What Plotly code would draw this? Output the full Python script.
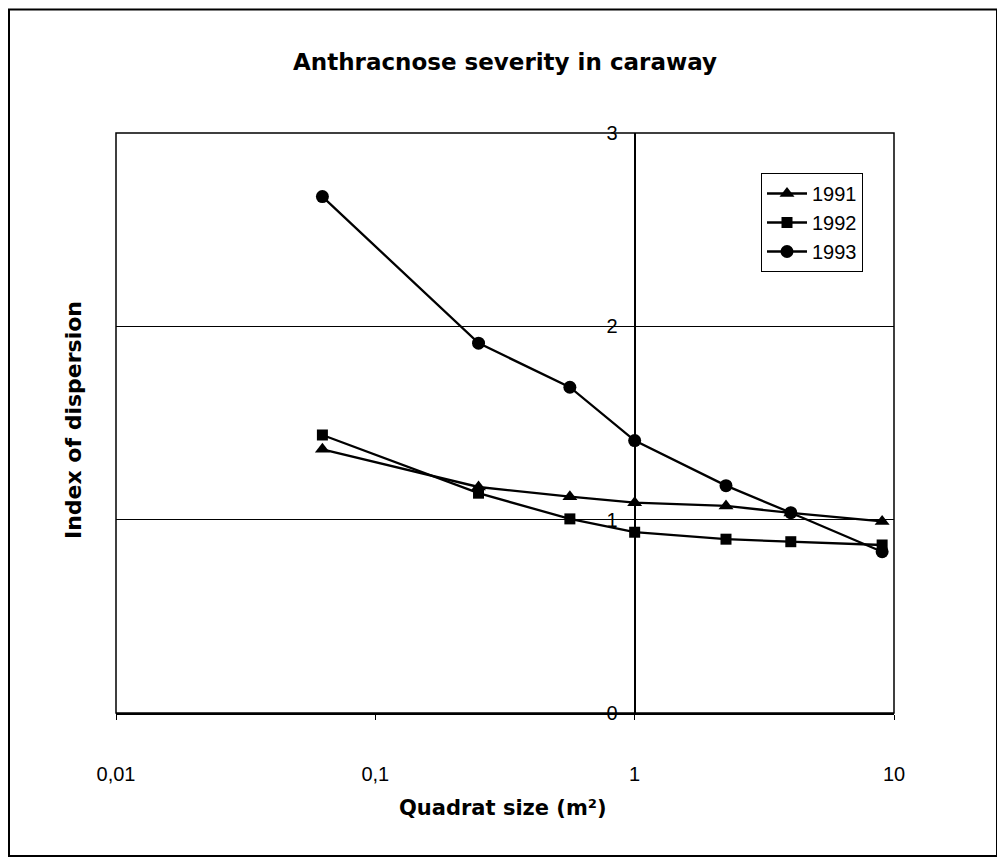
import plotly.graph_objects as go

quadrat_size = [0.0625, 0.25, 0.5625, 1, 2.25, 4, 9]
idx_1991 = [1.364, 1.169, 1.119, 1.088, 1.071, 1.035, 0.991]
idx_1992 = [1.438, 1.137, 1.004, 0.935, 0.899, 0.886, 0.869]
idx_1993 = [2.671, 1.913, 1.685, 1.409, 1.176, 1.036, 0.834]

x_tickvals = [0.01, 0.1, 1, 10]
x_ticktext = ["0,01", "0,1", "1", "10"]
y_tickvals = [0, 1, 2, 3]
y_ticktext = ["0", "1", "2", "3"]

FONT = "Liberation Sans, Arial, Helvetica, sans-serif"
BFONT = "DejaVu Sans, Liberation Sans, Arial, sans-serif"

fig = go.Figure()
series = [("1991", idx_1991, "triangle-up", 13),
          ("1992", idx_1992, "square", 11),
          ("1993", idx_1993, "circle", 13)]
for name, vals, sym, sz in series:
    fig.add_trace(go.Scatter(
        x=quadrat_size, y=vals, name=name, mode="lines+markers",
        line=dict(color="black", width=2.3),
        marker=dict(symbol=sym, size=sz, color="black"),
    ))

# the page body adds an 8 px offset; work in page pixels and convert
OFF = 8
W, H = 1005 - OFF, 858 - OFF
L, R, T, B = 116 - OFF, 894 - OFF, 133 - OFF, 713 - OFF
pw, ph = R - L, B - T

def px(xp):
    return (xp - OFF - L) / pw

def py(yp):
    return (B - (yp - OFF)) / ph

fig.update_layout(
    width=W, height=H,
    margin=dict(l=L, r=W - R, t=T, b=H - B, pad=0),
    paper_bgcolor="white", plot_bgcolor="white",
    font=dict(family=FONT, color="black", size=20),
    showlegend=True,
    legend=dict(x=px(761), y=py(173), xanchor="left", yanchor="top",
                bordercolor="black", borderwidth=1, bgcolor="white",
                font=dict(size=20, family=FONT), itemwidth=40,
                tracegroupgap=0),
    xaxis=dict(type="log", range=[-2, 1], domain=[0, 1],
               tickvals=x_tickvals, ticktext=x_ticktext,
               showgrid=False, zeroline=False,
               showline=True, linecolor="black", linewidth=2,
               ticks="outside", ticklen=5, tickcolor="black",
               ticklabelstandoff=37,
               tickfont=dict(size=20, family=FONT)),
    yaxis=dict(range=[0, 3], anchor="free", position=2 / 3,
               tickvals=y_tickvals, ticktext=y_ticktext,
               showgrid=True, gridcolor="black", gridwidth=1,
               zeroline=False, showline=True, linecolor="black", linewidth=2,
               ticks="", ticklabelstandoff=12,
               tickfont=dict(size=20, family=FONT)),
    shapes=[
        dict(type="rect", xref="paper", yref="paper", x0=0, x1=1, y0=0, y1=1,
             line=dict(color="black", width=1.5), layer="below"),
        dict(type="rect", xref="paper", yref="paper",
             x0=px(9), x1=px(997), y0=py(856), y1=py(9.5),
             line=dict(color="black", width=2)),
    ],
    annotations=[
        dict(text="<b>Anthracnose severity in caraway</b>", xref="paper", yref="paper",
             x=px(505), y=py(62), showarrow=False, xanchor="center", yanchor="middle",
             font=dict(size=23, family=BFONT)),
        dict(text="<b>Quadrat size (m²)</b>", xref="paper", yref="paper",
             x=px(503), y=py(808), showarrow=False, xanchor="center", yanchor="middle",
             font=dict(size=21, family=BFONT)),
        dict(text="<b>Index of dispersion</b>", xref="paper", yref="paper",
             x=px(73), y=py(420), showarrow=False, xanchor="center", yanchor="middle",
             textangle=-90, font=dict(size=22, family=BFONT)),
    ],
)

fig.write_html("out.html")
